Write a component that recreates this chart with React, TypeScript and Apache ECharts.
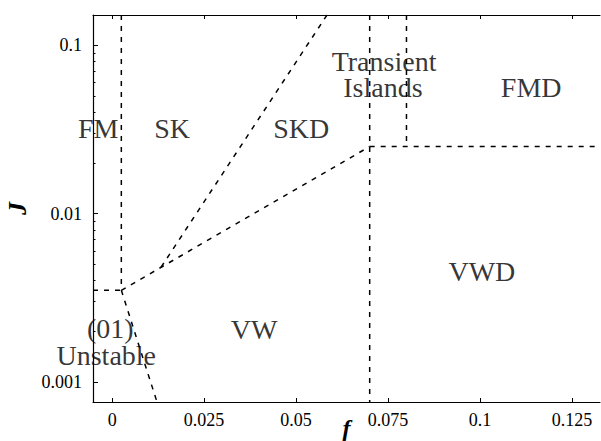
import React, { useEffect, useRef } from "react";
import * as echarts from "echarts";

// Axis ranges (data units)
const fRange = [-0.0052, 0.1326];
const jRange = [0.00076, 0.151];
const fTicks = [0, 0.025, 0.05, 0.075, 0.1, 0.125];
const jTicks = [0.001, 0.01, 0.1];
const jMinorTicks = [
  0.002, 0.003, 0.004, 0.005, 0.006, 0.007, 0.008, 0.009,
  0.02, 0.03, 0.04, 0.05, 0.06, 0.07, 0.08, 0.09,
];

// Phase boundaries: [f, J] pairs
const fmSkBoundary = [[0.0025, 0.151], [0.0025, 0.0035]];
const leftUnstableBoundary = [[-0.0052, 0.0035], [0.0025, 0.0035]];
const unstableVwBoundary = [[0.0025, 0.0035], [0.0122, 0.00076]];
const vwSkdBoundary = [[0.0025, 0.0035], [0.07, 0.025]];
const skSkdBoundary = [[0.0133, 0.0048], [0.0584, 0.151]];
const f07Boundary = [[0.07, 0.151], [0.07, 0.00076]];
const islandsFmdBoundary = [[0.08, 0.151], [0.08, 0.025]];
const fmdVwdBoundary = [[0.07, 0.025], [0.1326, 0.025]];

const boundaries = [
  fmSkBoundary,
  leftUnstableBoundary,
  unstableVwBoundary,
  vwSkdBoundary,
  skSkdBoundary,
  f07Boundary,
  islandsFmdBoundary,
  fmdVwdBoundary,
];

// Region names and their locations [f, J]
const regionNames = ["FM", "SK", "SKD", "Transient", "Islands", "FMD", "VWD", "VW", "(01)", "Unstable"];
const regionF = [-0.0038, 0.0163, 0.0514, 0.0739, 0.0736, 0.1139, 0.1005, 0.0386, -0.0005, -0.0016];
const regionJ = [0.032, 0.032, 0.032, 0.0800, 0.0560, 0.0562, 0.00455, 0.00205, 0.00207, 0.00144];

const FONT = "Liberation Serif, Times New Roman, Times, DejaVu Serif, serif";

export default function App() {
  const ref = useRef<HTMLDivElement>(null);
  useEffect(() => {
    if (!ref.current) return;
    const chart = echarts.init(ref.current, null, { renderer: "svg" });
    const lineSeries = boundaries.map((b) => ({
      type: "line",
      data: b,
      xAxisIndex: 0,
      yAxisIndex: 0,
      symbol: "none",
      silent: true,
      lineStyle: { color: "#000", width: 1.5, type: [5, 6] },
    }));
    const tickStyle = { color: "#000", width: 1 };
    chart.setOption({
      animation: false,
      backgroundColor: "#fff",
      grid: { left: 93, right: 1, top: 15, bottom: 39, containLabel: false, outerBoundsMode: "none" },
      xAxis: [
        {
          type: "value",
          min: fRange[0],
          max: fRange[1],
          position: "bottom",
          name: "f",
          nameLocation: "middle",
          nameGap: 14,
          nameMoveOverlap: false,
          nameTextStyle: { fontFamily: FONT, fontSize: 24, fontStyle: "italic", fontWeight: "bold", color: "#000" },
          axisLine: { show: true, onZero: false, lineStyle: { color: "#000", width: 1.2 } },
          axisTick: { show: true, inside: true, length: 4, lineStyle: tickStyle, customValues: fTicks },
          axisLabel: {
            margin: 9,
            fontFamily: FONT,
            fontSize: 18,
            color: "#000",
            customValues: fTicks,
            formatter: (v: number) => String(+v.toFixed(3)),
          },
          splitLine: { show: false },
        },
        {
          type: "value",
          min: fRange[0],
          max: fRange[1],
          position: "top",
          axisLine: { show: true, onZero: false, lineStyle: { color: "#000", width: 1.2 } },
          axisTick: { show: true, inside: true, length: 4, lineStyle: tickStyle, customValues: fTicks },
          axisLabel: { show: false },
          splitLine: { show: false },
        },
      ],
      yAxis: [
        {
          type: "log",
          logBase: 10,
          min: jRange[0],
          max: jRange[1],
          position: "left",
          name: "J",
          nameLocation: "middle",
          nameRotate: 90,
          nameGap: 62,
          nameTextStyle: { fontFamily: FONT, fontSize: 26, fontStyle: "italic", fontWeight: "bold", color: "#000" },
          axisLine: { show: true, onZero: false, lineStyle: { color: "#000", width: 1.2 } },
          axisTick: { show: true, inside: true, length: 5, lineStyle: tickStyle, customValues: jTicks },
          axisLabel: {
            margin: 11,
            fontFamily: FONT,
            fontSize: 18,
            color: "#000",
            customValues: jTicks,
            formatter: (v: number) => String(+v.toPrecision(1)),
          },
          splitLine: { show: false },
        },
        {
          type: "log",
          logBase: 10,
          min: jRange[0],
          max: jRange[1],
          position: "left",
          axisLine: { show: false, onZero: false },
          axisTick: { show: true, inside: true, length: 2.5, lineStyle: tickStyle, customValues: jMinorTicks },
          axisLabel: { show: false },
          splitLine: { show: false },
        },
      ],
      series: [
        ...lineSeries,
        {
          type: "scatter",
          xAxisIndex: 0,
          yAxisIndex: 0,
          symbolSize: 1,
          silent: true,
          itemStyle: { color: "rgba(0,0,0,0)" },
          data: regionNames.map((n, i) => ({ name: n, value: [regionF[i], regionJ[i]] })),
          label: {
            show: true,
            position: "inside",
            formatter: (p: any) => p.name,
            fontFamily: FONT,
            fontSize: 28,
            lineHeight: 24,
            color: "#000",
            align: "center",
          },
        },
      ],
    });
    return () => chart.dispose();
  }, []);
  return <div ref={ref} style={{ position: "absolute", left: 0, top: 0, width: 601, height: 441 }} />;
}
